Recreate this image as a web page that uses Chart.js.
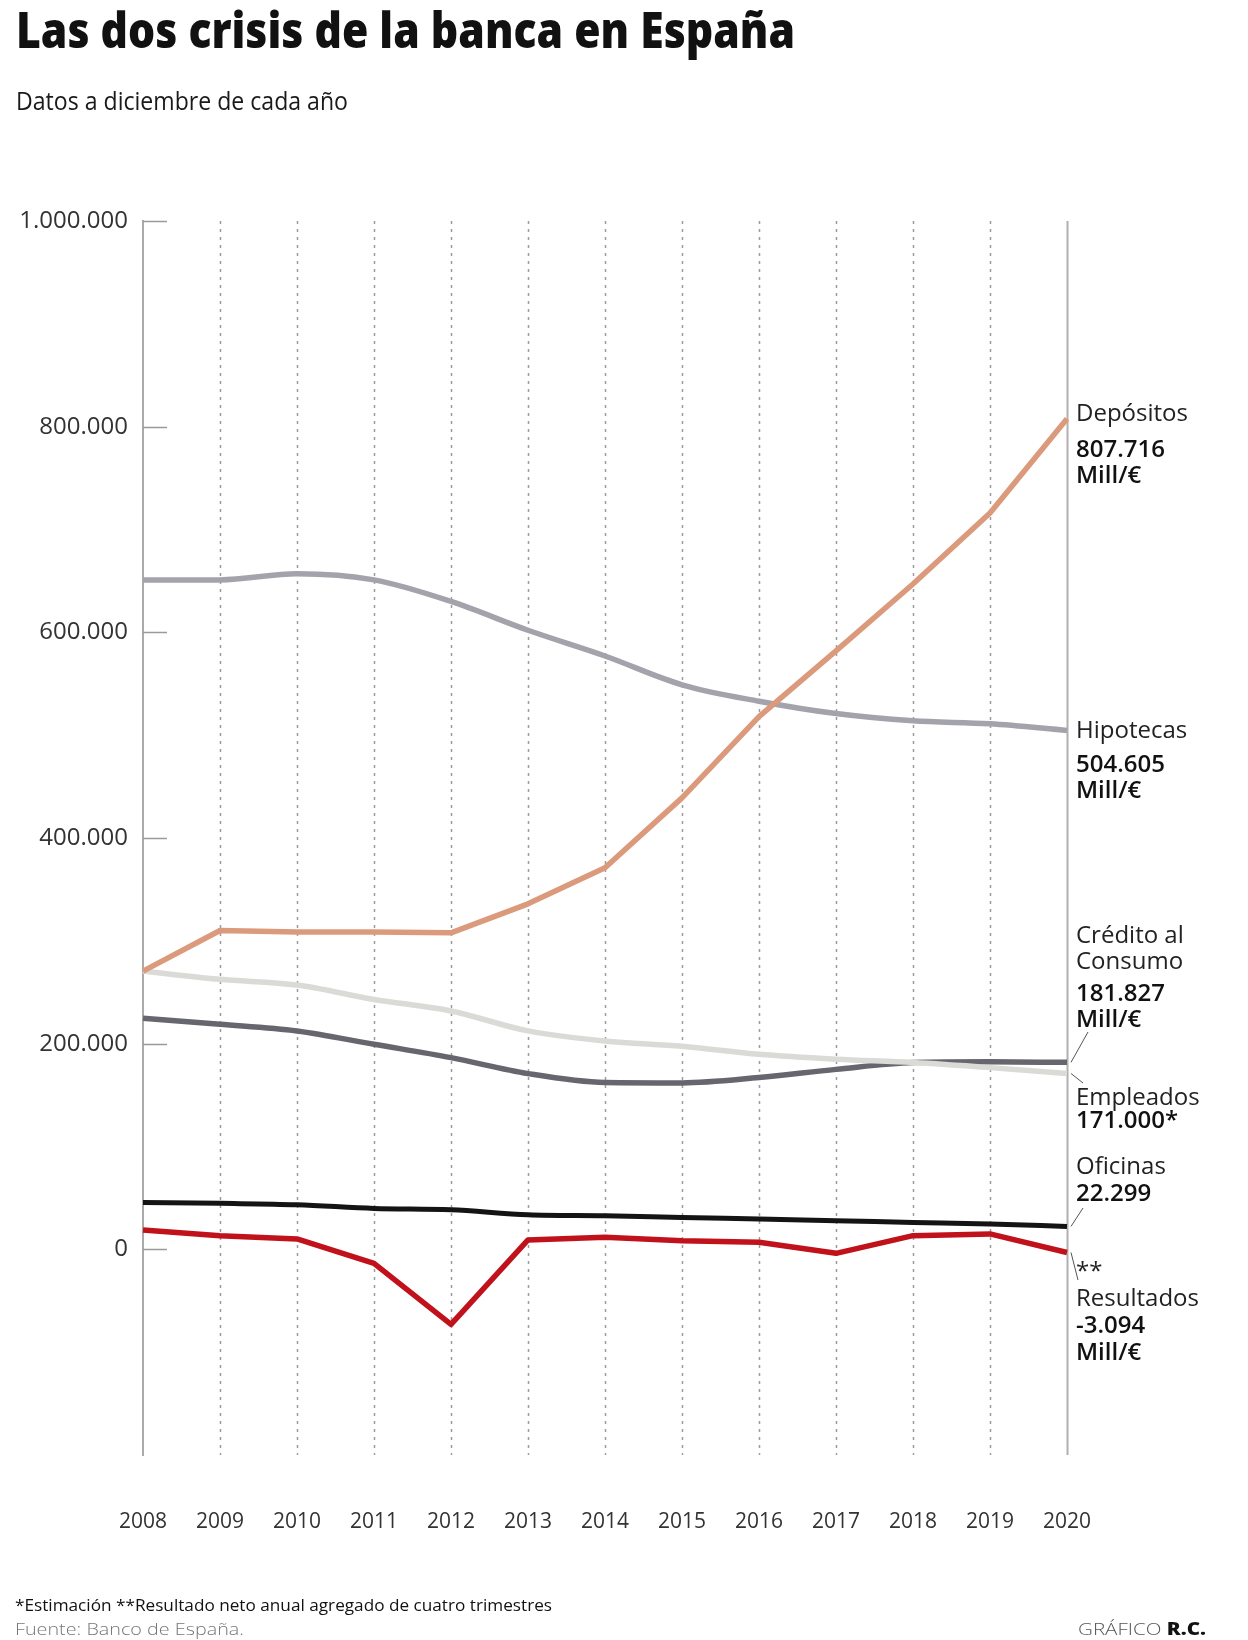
<!DOCTYPE html>
<html><head><meta charset="utf-8">
<script src="https://cdn.jsdelivr.net/npm/chart.js@4.4.1/dist/chart.umd.min.js"></script>
<style>
html,body{margin:0;padding:0;background:#fff;}
#wrap{position:relative;width:1248px;height:1640px;overflow:hidden;background:#fff;}
#c{position:absolute;left:0;top:0;}
.t{position:absolute;white-space:nowrap;line-height:1;transform-origin:0 0;font-family:"Open Sans",sans-serif;}
</style></head><body>
<div id="wrap">
<canvas id="c" width="1248" height="1640"></canvas>
<div class="t" data-base="48" data-w="779" style="left:16px;font-size:50px;font-weight:800;color:#111;">Las dos crisis de la banca en España</div>
<div class="t" data-base="110" data-w="332" style="left:16px;font-size:26px;font-weight:400;color:#1a1a1a;">Datos a diciembre de cada año</div>
<div class="t" data-base="1611" data-w="537" style="left:15px;font-size:17px;font-weight:400;color:#111;">*Estimación **Resultado neto anual agregado de cuatro trimestres</div>
<div class="t" data-base="1635" data-w="229" style="left:15px;font-size:17px;font-weight:300;color:#777;">Fuente: Banco de España.</div>
<div class="t" data-base="1635" data-w="128" style="left:1078px;font-size:17px;font-weight:300;color:#555;">GRÁFICO <b style="font-weight:800;color:#111;">R.C.</b></div>
</div>
<script>
// ---- data ----
const years = ['2008','2009','2010','2011','2012','2013','2014','2015','2016','2017','2018','2019','2020'];
const depositos  = [270600,310000,308500,308500,307800,336000,371000,439000,518000,582000,647000,716000,807716];
const hipotecas  = [651000,651000,657000,651000,630000,602000,577000,549000,533000,521000,514000,511000,504605];
const empleados  = [270600,262600,257000,243000,231800,212400,202600,197500,189700,184900,181600,176700,171000];
const credito    = [224700,218900,212400,199400,186400,170900,162200,161800,167000,175000,181600,182300,181827];
const oficinas   = [45600,44700,43400,39800,38500,33700,32700,31000,29500,27900,26200,24600,22299];
const resultados = [18800,13300,10100,-13600,-73000,9100,11700,8400,6800,-3900,13300,15000,-3094];
const yMin = -200000, yMax = 1000000, yStep = 200000;

const fmt = v => String(v).replace(/\B(?=(\d{3})+(?!\d))/g, '.');

// ---- HTML text placement (baseline + fitted width) ----
(function(){
  const m = document.createElement('canvas').getContext('2d');
  document.querySelectorAll('.t').forEach(el => {
    const cs = getComputedStyle(el);
    const size = parseFloat(cs.fontSize);
    m.font = cs.fontWeight + ' ' + size + 'px ' + cs.fontFamily;
    const mt = m.measureText('Hg');
    const A = mt.fontBoundingBoxAscent, D = mt.fontBoundingBoxDescent;
    const top = +el.dataset.base - ((size - (A + D)) / 2 + A);
    el.style.top = top + 'px';
    const w = el.getBoundingClientRect().width;
    const k = (+el.dataset.w) / w;
    el.style.transform = 'scaleX(' + k + ')';
  });
})();

// ---- right-side annotations ----
const notes = [
  {i:0, lines:[['Depósitos',0,414],['807.716',1,450],['Mill/€',1,476]]},
  {i:1, lines:[['Hipotecas',0,731],['504.605',1,765],['Mill/€',1,791]]},
  {i:3, lines:[['Crédito al',0,936],['Consumo',0,962],['181.827',1,994],['Mill/€',1,1020]], to:[1088,1032]},
  {i:2, lines:[['Empleados',0,1098],['171.000*',1,1121]], to:[1083,1083]},
  {i:4, lines:[['Oficinas',0,1167],['22.299',1,1194]], to:[1083,1208]},
  {i:5, lines:[['**',0,1272],['Resultados',0,1299],['-3.094',1,1326],['Mill/€',1,1353]], to:[1078,1280]}
];

const deco = {
  id:'deco',
  beforeDatasetsDraw(chart){
    const {ctx, chartArea:a, scales:{x, y}} = chart;
    ctx.save();
    years.forEach((yr, i) => {
      if (i === 0) return;
      const px = Math.round(x.getPixelForValue(i)) + 0.5;
      const last = i === years.length - 1;
      ctx.beginPath();
      ctx.lineWidth = last ? 2 : 1.5;
      ctx.strokeStyle = last ? '#b0b0b0' : '#9c9c9c';
      ctx.setLineDash(last ? [] : [3, 5]);
      ctx.moveTo(px, a.top); ctx.lineTo(px, a.bottom); ctx.stroke();
    });
    ctx.setLineDash([]);
    ctx.lineWidth = 1.5; ctx.strokeStyle = '#9a9a9a';
    y.ticks.forEach(t => {
      if (t.value < 0) return;
      const py = Math.round(y.getPixelForValue(t.value)) + 0.5;
      ctx.beginPath(); ctx.moveTo(a.left, py); ctx.lineTo(a.left + 24, py); ctx.stroke();
    });
    ctx.restore();
  },
  afterDraw(chart){
    const {ctx, scales:{x, y}} = chart;
    ctx.save();
    const tx = 1076;
    notes.forEach(n => {
      const ds = chart.data.datasets[n.i];
      const lastIdx = ds.data.length - 1;
      if (n.to) {
        ctx.beginPath();
        ctx.lineWidth = 1; ctx.strokeStyle = '#555';
        ctx.moveTo(x.getPixelForValue(lastIdx) + 4, y.getPixelForValue(ds.data[lastIdx]));
        ctx.lineTo(n.to[0], n.to[1]);
        ctx.stroke();
      }
      ctx.textBaseline = 'middle';
      ctx.textAlign = 'left';
      n.lines.forEach(([txt, bold, ly]) => {
        ctx.font = (bold ? '600 24px' : '400 24px') + ' "Open Sans", sans-serif';
        ctx.fillStyle = bold ? '#111' : '#222';
        ctx.fillText(txt, tx, ly);
      });
    });
    ctx.restore();
  }
};

const mk = (label, data, color, w, smooth) => ({
  label, data, borderColor: color, backgroundColor: color, borderWidth: w,
  pointRadius: 0, pointHoverRadius: 0, fill: false,
  cubicInterpolationMode: smooth ? 'monotone' : 'default', tension: 0,
  borderJoinStyle: 'round', borderCapStyle: 'butt'
});

new Chart(document.getElementById('c'), {
  type: 'line',
  data: {
    labels: years,
    datasets: [
      mk('Depósitos', depositos, '#dc9a7c', 5.5, false),
      mk('Hipotecas', hipotecas, '#a3a3ab', 5.5, true),
      mk('Empleados', empleados, '#dadad6', 5.5, true),
      mk('Crédito al Consumo', credito, '#66666e', 5.5, true),
      mk('Oficinas', oficinas, '#141414', 5, true),
      mk('Resultados', resultados, '#c1121c', 5.5, false)
    ]
  },
  options: {
    responsive: false, animation: false, devicePixelRatio: 1,
    layout: {padding: {left: 0, right: 181, top: 221, bottom: 65}},
    plugins: {legend: {display: false}, tooltip: {enabled: false}},
    scales: {
      x: {
        type: 'category', offset: false,
        grid: {display: false, drawTicks: false}, border: {display: false},
        ticks: {font: {family: '"Open Sans", sans-serif', size: 21}, color: '#333', padding: 54, maxRotation: 0, autoSkip: false},
        afterFit(s){ s.height = 120; }
      },
      y: {
        min: yMin, max: yMax,
        grid: {display: false, drawTicks: false},
        border: {display: true, color: '#aaaaaa', width: 2},
        ticks: {stepSize: yStep, padding: 15, font: {family: '"Open Sans", sans-serif', size: 24}, color: '#333',
          callback: v => v < 0 ? '' : fmt(v)},
        afterFit(s){ s.width = 143; }
      }
    }
  },
  plugins: [deco]
});
</script>
</body></html>
